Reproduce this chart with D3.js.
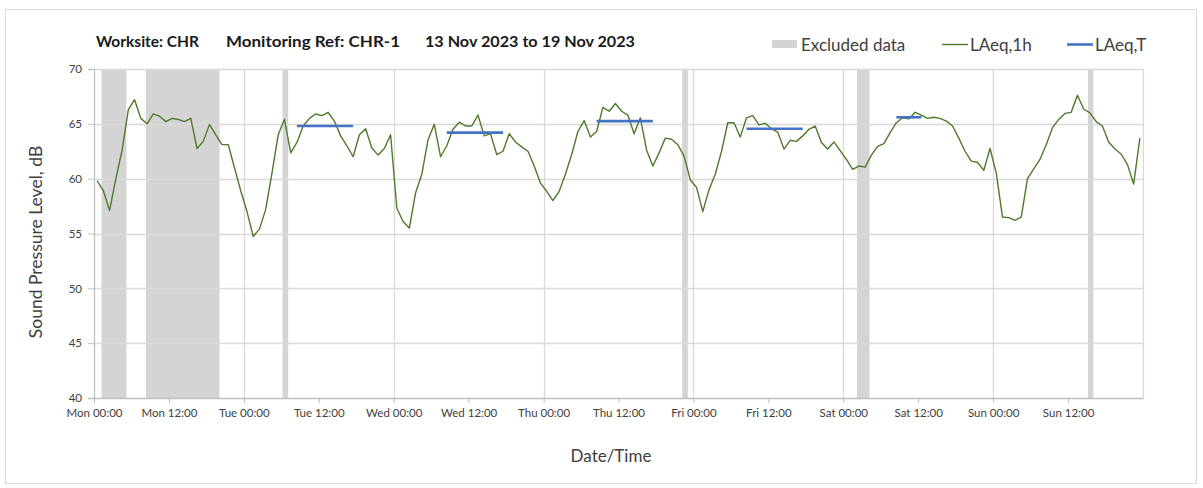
<!DOCTYPE html>
<html>
<head>
<meta charset="utf-8">
<script src="https://cdn.jsdelivr.net/npm/d3@7"></script>
<style>
  body { margin: 0; background: #fff; }
  text { font-family: Lato, "Open Sans", sans-serif; fill: #404040; }
</style>
</head>
<body>
<svg id="chart" width="1203" height="488"></svg>
<script>
// monitoring week start (Mon 13 Nov 2023)
const startDate = new Date(2023, 10, 13, 0, 0);
const endDate = new Date(2023, 10, 20, 0, 0);

// LAeq,1h hourly values, Mon 00:00 .. Sun 23:00
const laeq1h = [
  59.8, 58.9, 57.1, 60.0, 62.6, 66.3, 67.2, 65.5, 65.0, 65.9, 65.7, 65.2,
  65.5, 65.4, 65.2, 65.5, 62.75, 63.4, 64.95, 64.0, 63.1, 63.1, 61.0, 58.9,
  57.0, 54.75, 55.4, 57.2, 60.5, 64.0, 65.4, 62.35, 63.3, 64.8, 65.5, 65.9,
  65.75, 66.05, 65.25, 63.9, 63.0, 62.0, 64.0, 64.55, 62.8, 62.15, 62.75, 64.0,
  57.3, 56.1, 55.5, 58.7, 60.4, 63.55, 64.95, 62.0, 63.0, 64.5, 65.15, 64.8,
  64.8, 65.8, 63.9, 64.1, 62.2, 62.5, 64.1, 63.35, 62.9, 62.5, 61.15, 59.6,
  58.85, 58.0, 58.85, 60.4, 62.2, 64.3, 65.3, 63.8, 64.3, 66.5, 66.15, 66.85,
  66.15, 65.8, 64.1, 65.55, 62.6, 61.15, 62.35, 63.7, 63.6, 63.1, 62.05, 59.9,
  59.2, 57.0, 59.0, 60.4, 62.5, 65.1, 65.1, 63.8, 65.55, 65.75, 64.9, 65.05,
  64.55, 64.25, 62.7, 63.5, 63.4, 63.9, 64.5, 64.8, 63.3, 62.7, 63.35, 62.55,
  61.75, 60.85, 61.15, 61.05, 62.15, 62.95, 63.2, 64.2, 65.1, 65.55, 65.45, 66.05,
  65.8, 65.5, 65.6, 65.5, 65.25, 64.8, 63.7, 62.5, 61.6, 61.5, 60.75, 62.75,
  60.5, 56.5, 56.45, 56.2, 56.5, 60.0, 60.9, 61.75, 63.1, 64.65, 65.4, 65.95,
  66.05, 67.6, 66.35, 66.0, 65.2, 64.8, 63.35, 62.7, 62.25, 61.3, 59.5, 63.7
];

// excluded data periods, hours from start
const excludedStart = [1.2, 8.3, 30.2, 94.2, 122.2, 159.2];
const excludedEnd   = [5.2, 20.1, 31.1, 95.1, 124.2, 160.05];

// LAeq,T periods: first hour, last hour (from start), level
const laeqTFrom  = [32, 56, 80, 104, 128];
const laeqTTo    = [41, 65, 89, 113, 132];
const laeqTLevel = [64.8, 64.2, 65.25, 64.55, 65.6];

const yTicks = [40, 45, 50, 55, 60, 65, 70];
const titleParts = ["Worksite: CHR", "Monitoring Ref: CHR-1", "13 Nov 2023 to 19 Nov 2023"];
const legendLabels = ["Excluded data", "LAeq,1h", "LAeq,T"];

const plot = { left: 94, right: 1143, top: 69, bottom: 398 };

const svg = d3.select("#chart");

const atHour = h => new Date(startDate.getTime() + h * 3600e3);

const x = d3.scaleTime().domain([startDate, endDate]).range([plot.left, plot.right]);
const y = d3.scaleLinear().domain([40, 70]).range([plot.bottom, plot.top]);

// outer frame
svg.append("rect")
  .attr("x", 5.5).attr("y", 9.5).attr("width", 1191).attr("height", 474)
  .attr("fill", "none").attr("stroke", "#d9d9d9");

// excluded bands
svg.append("g").selectAll("rect")
  .data(excludedStart.map((s, i) => [s, excludedEnd[i]]))
  .join("rect")
  .attr("x", d => x(atHour(d[0])))
  .attr("width", d => x(atHour(d[1])) - x(atHour(d[0])))
  .attr("y", plot.top)
  .attr("height", plot.bottom - plot.top)
  .attr("fill", "#d4d4d4");

// horizontal grid
svg.append("g").selectAll("line")
  .data(yTicks.slice(1))
  .join("line")
  .attr("x1", plot.left).attr("x2", plot.right)
  .attr("y1", d => Math.round(y(d)) + 0.5).attr("y2", d => Math.round(y(d)) + 0.5)
  .attr("stroke", "#d9d9d9").attr("stroke-width", 1.3);

// vertical grid at midnight
svg.append("g").selectAll("line")
  .data(d3.timeDay.range(d3.timeDay.offset(startDate, 1), endDate).concat([endDate]))
  .join("line")
  .attr("x1", d => Math.round(x(d)) + 0.5).attr("x2", d => Math.round(x(d)) + 0.5)
  .attr("y1", plot.top).attr("y2", plot.bottom)
  .attr("stroke", "#d9d9d9").attr("stroke-width", 1.3);

// y axis
const yAxis = svg.append("g")
  .attr("transform", `translate(${plot.left},0)`)
  .call(d3.axisLeft(y).tickValues(yTicks).tickSize(6).tickPadding(6));
yAxis.select(".domain").attr("stroke", "#bfbfbf").attr("stroke-width", 1.3);
yAxis.selectAll(".tick line").attr("stroke", "#bfbfbf");
yAxis.selectAll("text").attr("font-size", 11.5).attr("fill", "#404040")
  .style("font-family", "Lato, sans-serif");

// x axis
const xTickVals = d3.timeHour.every(12).range(startDate, endDate);
const xAxis = svg.append("g")
  .attr("transform", `translate(0,${plot.bottom})`)
  .call(d3.axisBottom(x).tickValues(xTickVals).tickFormat(d3.timeFormat("%a %H:%M"))
    .tickSize(5).tickPadding(6).tickSizeOuter(0));
xAxis.select(".domain").attr("stroke", "#bfbfbf").attr("stroke-width", 1.3);
xAxis.selectAll(".tick line").attr("stroke", "#bfbfbf");
xAxis.selectAll("text").attr("font-size", 11.5).attr("fill", "#404040")
  .style("font-family", "Lato, sans-serif");

// LAeq,1h line
const line = d3.line()
  .x((d, i) => x(atHour(i + 0.5)))
  .y(d => y(d));
svg.append("path")
  .datum(laeq1h)
  .attr("d", line)
  .attr("fill", "none")
  .attr("stroke", "#4e7a2c")
  .attr("stroke-width", 1.4)
  .attr("stroke-linejoin", "round");

// LAeq,T segments
svg.append("g").selectAll("line")
  .data(laeqTLevel.map((v, i) => ({ from: laeqTFrom[i], to: laeqTTo[i], v })))
  .join("line")
  .attr("x1", d => x(atHour(d.from + 0.5)))
  .attr("x2", d => x(atHour(d.to + 0.5)))
  .attr("y1", d => y(d.v)).attr("y2", d => y(d.v))
  .attr("stroke", "#4472c4").attr("stroke-width", 2.6);

// title
const titleX = [96, 226, 425];
const titleW = [103, 174, 210];
svg.append("g").selectAll("text")
  .data(titleParts)
  .join("text")
  .attr("x", (d, i) => titleX[i]).attr("y", 47)
  .attr("font-size", 16).attr("font-weight", "bold")
  .attr("textLength", (d, i) => titleW[i]).attr("lengthAdjust", "spacingAndGlyphs")
  .style("fill", "#1a1a1a")
  .text(d => d);

// legend
const lg = svg.append("g");
lg.append("rect").attr("x", 772).attr("y", 40).attr("width", 25).attr("height", 8).attr("fill", "#d4d4d4");
lg.append("line").attr("x1", 942).attr("x2", 968).attr("y1", 44.5).attr("y2", 44.5)
  .attr("stroke", "#4e7a2c").attr("stroke-width", 1.4);
lg.append("line").attr("x1", 1067).attr("x2", 1093).attr("y1", 44.5).attr("y2", 44.5)
  .attr("stroke", "#4472c4").attr("stroke-width", 2.6);
const legendX = [801, 970, 1095];
lg.selectAll("text").data(legendLabels).join("text")
  .attr("x", (d, i) => legendX[i]).attr("y", 51)
  .attr("font-size", 17)
  .text(d => d);

// axis titles
svg.append("text")
  .attr("transform", `translate(42,242) rotate(-90)`)
  .attr("text-anchor", "middle")
  .attr("font-size", 17.5)
  .text("Sound Pressure Level, dB");
svg.append("text")
  .attr("x", 611).attr("y", 462)
  .attr("text-anchor", "middle")
  .attr("font-size", 17)
  .text("Date/Time");
</script>
</body>
</html>
